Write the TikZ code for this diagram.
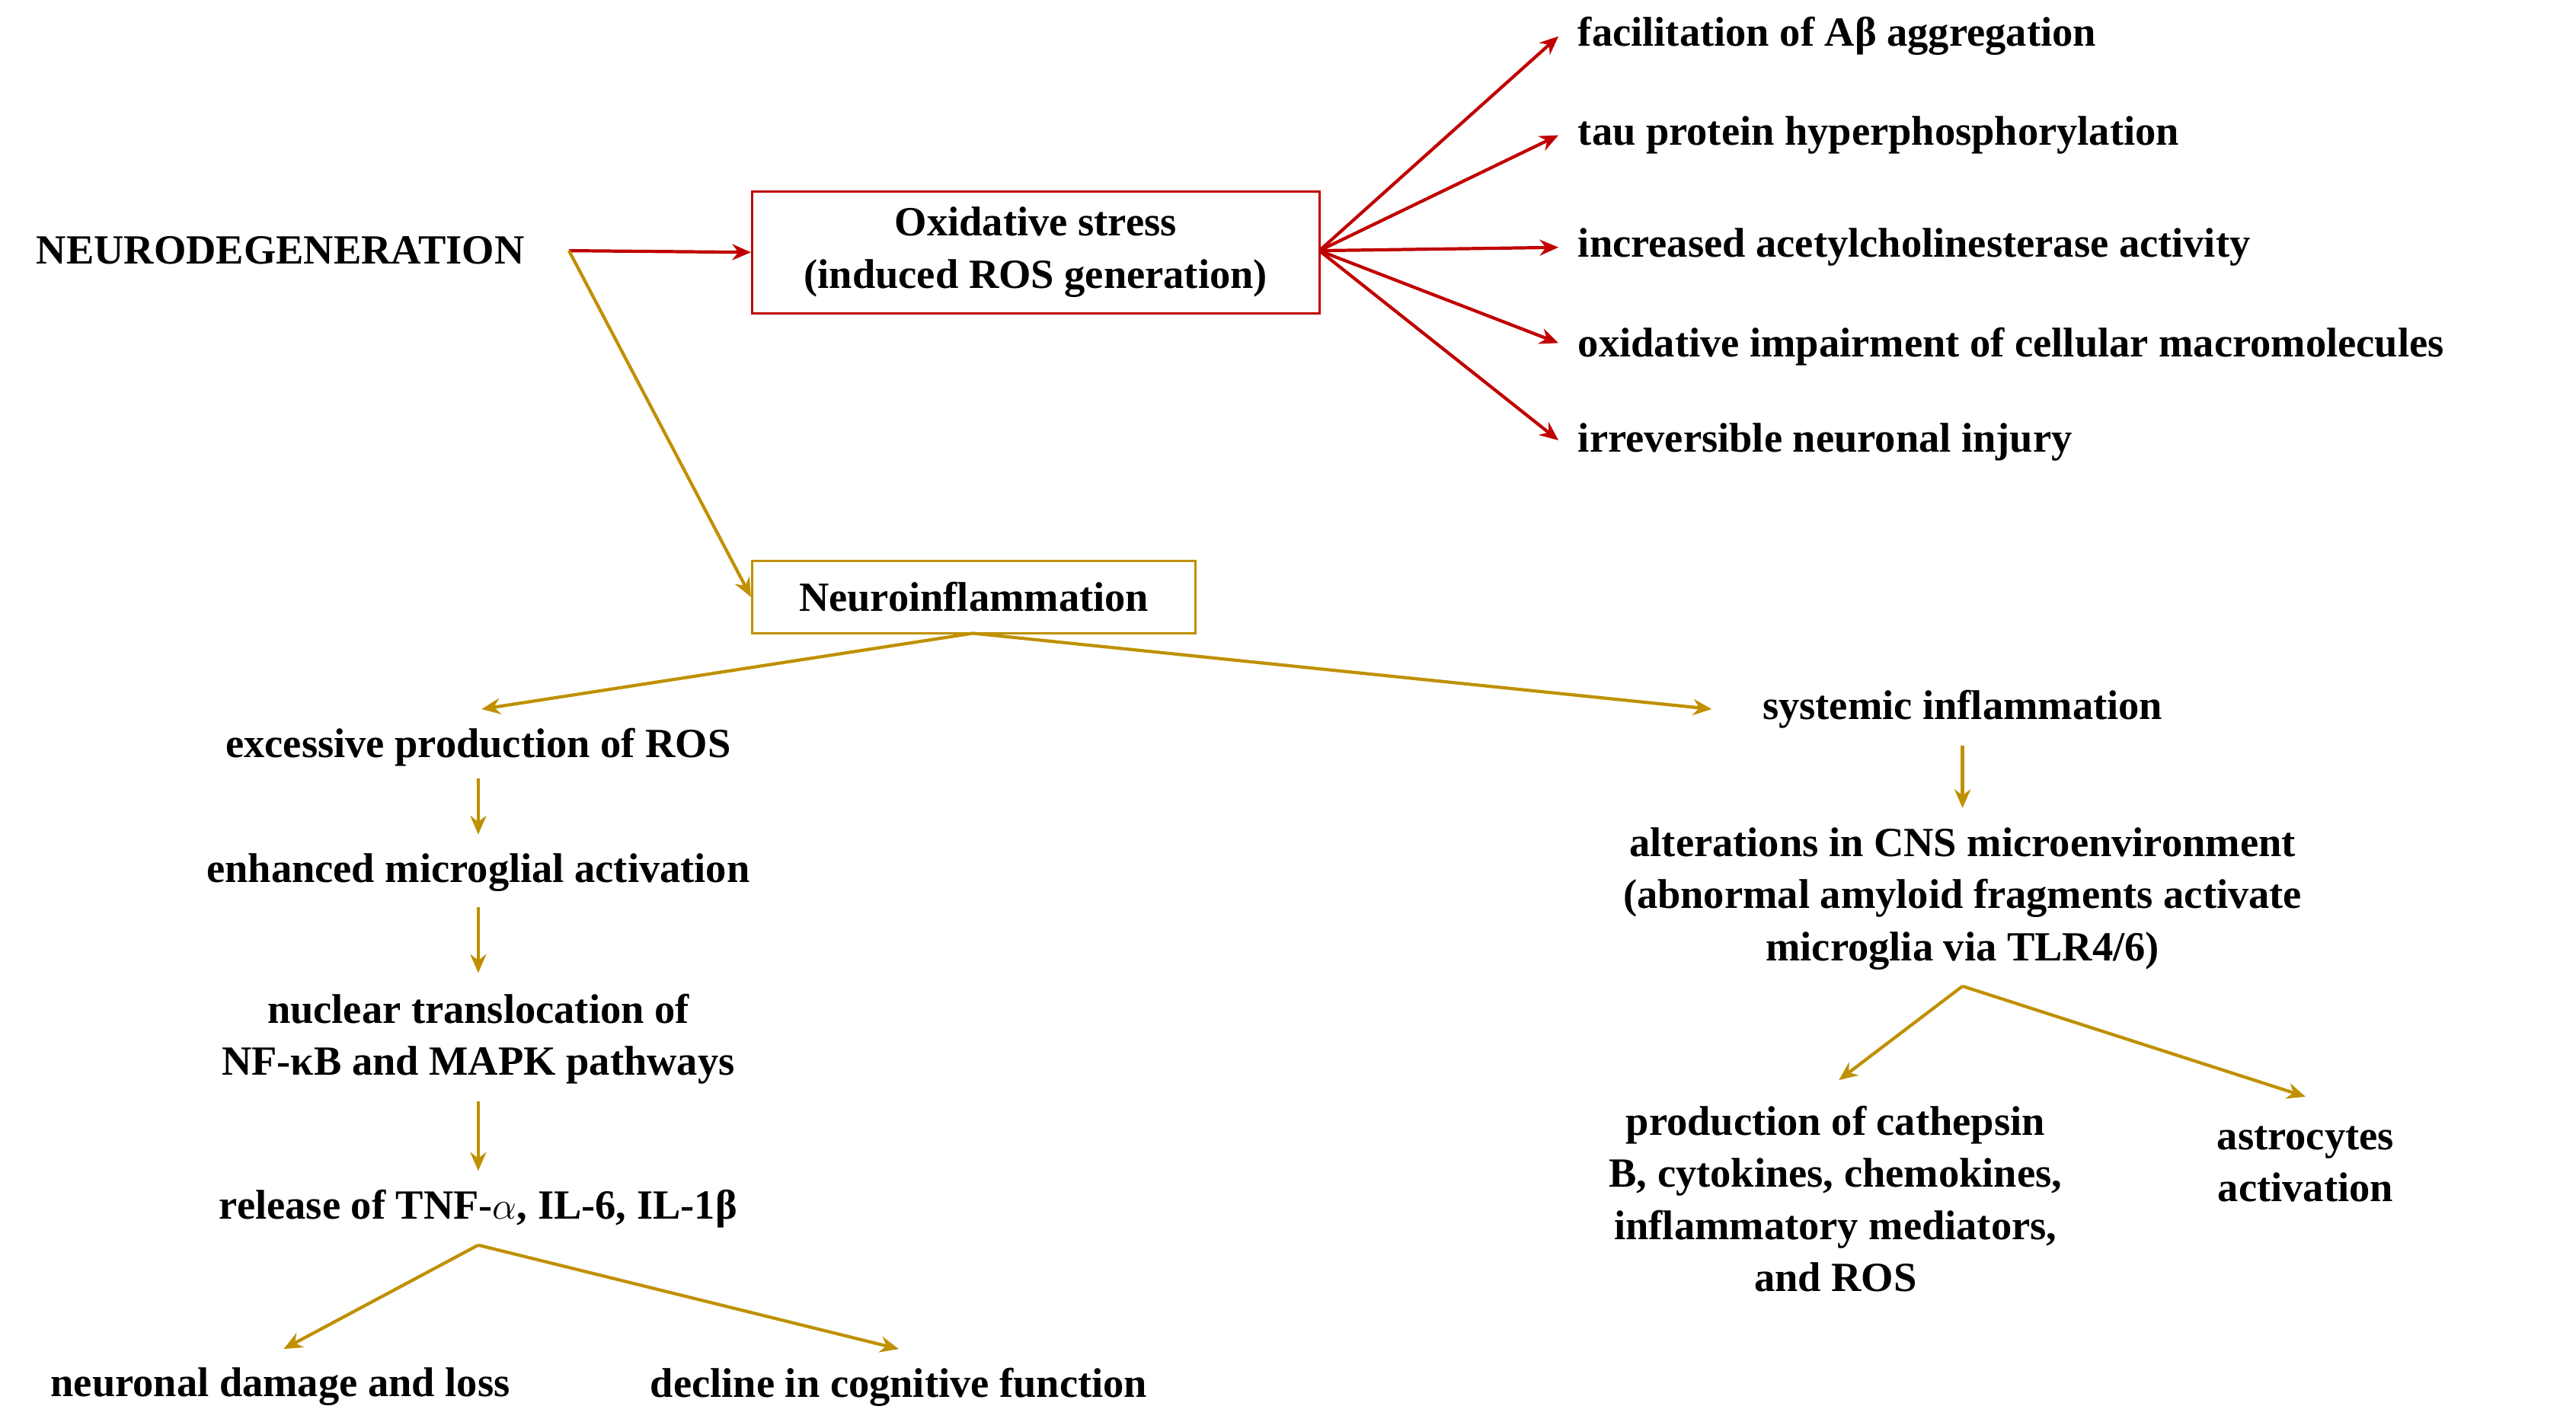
\documentclass[tikz,border=0pt]{standalone}
\usepackage{fontspec}
\setmainfont{Liberation Serif}
\usetikzlibrary{arrows.meta}
\definecolor{rd}{RGB}{192,0,0}
\definecolor{gd}{RGB}{191,144,0}
\begin{document}
\begin{tikzpicture}[x=0.02165cm,y=-0.02165cm,
  t/.style={font=\fontsize{15.5}{19.5}\selectfont\bfseries, inner sep=1pt, align=center},
  tl/.style={t, anchor=west},
  ra/.style={draw=rd, line width=1.2pt, -{Stealth[length=7pt,width=6pt]}, fill=rd},
  ga/.style={draw=gd, line width=1.2pt, -{Stealth[length=7pt,width=6pt]}, fill=gd}]
\useasboundingbox (0,0) rectangle (1562,862);
\node[t] (nd) at (170,152) {NEURODEGENERATION};
\coordinate (ndr) at (345,152);
\node[t, draw=rd, line width=0.8pt, minimum width=344*0.02165cm, minimum height=74*0.02165cm] (ox) at (628,153) {Oxidative stress\\(induced ROS generation)};
\node[t, draw=gd, line width=0.8pt, minimum width=269*0.02165cm, minimum height=44*0.02165cm] (ni) at (590.5,362) {Neuroinflammation};
\draw[ra] (ndr) -- (ox.west);
\draw[ga] (ndr) -- (ni.west);
\coordinate (oe) at (800,152);
\node[tl] (r1) at (955,22) {facilitation of Aβ aggregation};
\node[tl] (r2) at (955,82) {tau protein hyperphosphorylation};
\node[tl] (r3) at (955,150) {increased acetylcholinesterase activity};
\node[tl] (r4) at (955,210) {oxidative impairment of cellular macromolecules};
\node[tl] (r5) at (955,268) {irreversible neuronal injury};
\foreach \y/\n in {22/r1,82/r2,150/r3,208/r4,267/r5}{
  \coordinate (e\n) at (945,\y);
  \draw[ra] (oe) -- (e\n);}
\node[t] (a1) at (290,453) {excessive production of ROS};
\node[t] (a2) at (290,529) {enhanced microglial activation};
\node[t] (a3) at (290,630) {nuclear translocation of\\NF-κB and MAPK pathways};
\node[t] (a4) at (290,733) {release of TNF-$\alpha$, IL-6, IL-1β};
\node[t] (a5) at (170,841) {neuronal damage and loss};
\node[t] (a6) at (545,841) {decline in cognitive function};
\node[t] (b1) at (1190,430) {systemic inflammation};
\node[t] (b2) at (1190,545) {alterations in CNS microenvironment\\(abnormal amyloid fragments activate\\microglia via TLR4/6)};
\node[t] (b3) at (1113,727) {production of cathepsin\\B, cytokines, chemokines,\\inflammatory mediators,\\and ROS};
\node[t] (b4) at (1398,706) {astrocytes\\activation};
\coordinate (nb) at (590,384);
\coordinate (ea1) at (292,430);
\coordinate (eb1) at (1038,430);
\draw[ga] (nb) -- (ea1);
\draw[ga] (nb) -- (eb1);
\draw[ga] (290,472) -- (290,506);
\draw[ga] (290,550) -- (290,590);
\draw[ga] (290,668) -- (290,710);
\coordinate (s4) at (290,755);
\draw[ga] (s4) -- (172,818);
\draw[ga] (s4) -- (545,818);
\draw[ga] (1190,452) -- (1190,490);
\coordinate (s2) at (1190,598);
\draw[ga] (s2) -- (1115,655);
\draw[ga] (s2) -- (1398,665);
\end{tikzpicture}
\end{document}
